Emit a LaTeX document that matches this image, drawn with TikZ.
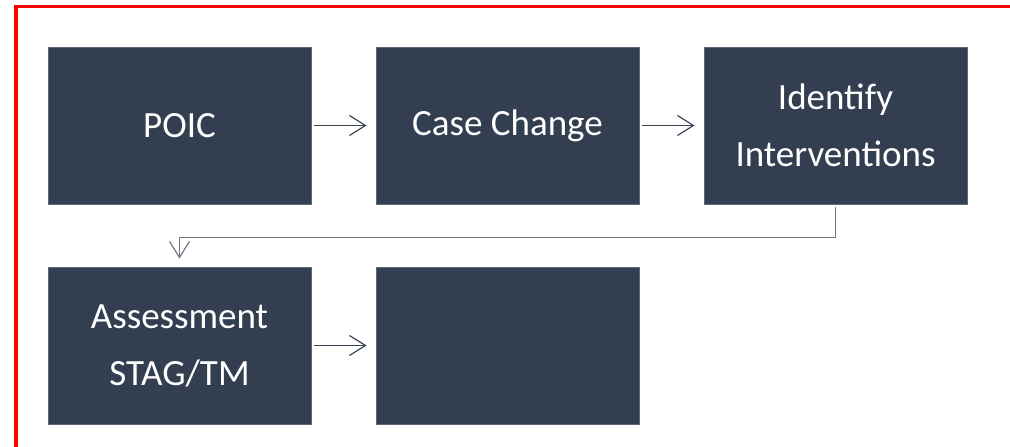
\documentclass[tikz,border=0pt]{standalone}
\usepackage{fontspec}
\setmainfont{Carlito}
\usetikzlibrary{arrows.meta}
\definecolor{boxfill}{HTML}{333F50}
\definecolor{boxline}{HTML}{5F6B7A}
\definecolor{arrcol}{HTML}{3B4556}
\definecolor{elbcol}{HTML}{6D7782}
\definecolor{frame}{HTML}{FF0000}
\tikzset{
  stepbox/.style={draw=boxline, line width=0.8pt, fill=boxfill, minimum width=263pt, minimum height=157pt,
    inner sep=0pt, text=white, align=center, font=\fontsize{37}{57}\selectfont},
  arr/.style={draw=arrcol, line width=1.2pt, -{Straight Barb[length=16pt,width=20pt,line width=1.2pt]}},
  elb/.style={draw=elbcol, line width=1.2pt, -{Straight Barb[length=16pt,width=20pt,line width=1.2pt]}},
}
\begin{document}
\begin{tikzpicture}[x=1pt,y=1pt]
\useasboundingbox (0,0) rectangle (1010,447);
\draw[frame, line width=3.6pt] (15.8,0) -- (15.8,440.5) -- (1010,440.5);
\node[stepbox] (b1) at (179.5,321.5) {POIC};
\node[stepbox] (b2) at (507.5,321.5) {Case Change};
\node[stepbox] (b3) at (835.5,321.5) {Identify\\Interventions};
\node[stepbox] (b4) at (179.5,101.5) {Assessment\\STAG/TM};
\node[stepbox] (b5) at (507.5,101.5) {};
\draw[arr, shorten <=3pt, shorten >=9pt] (b1) -- (b2);
\draw[arr, shorten <=3pt, shorten >=9pt] (b2) -- (b3);
\draw[arr, shorten <=3pt, shorten >=9pt] (b4) -- (b5);
\draw[elb, shorten <=3pt, shorten >=8pt] (b3.south) -- ++(0,-33) -| (b4.north);
\end{tikzpicture}
\end{document}
